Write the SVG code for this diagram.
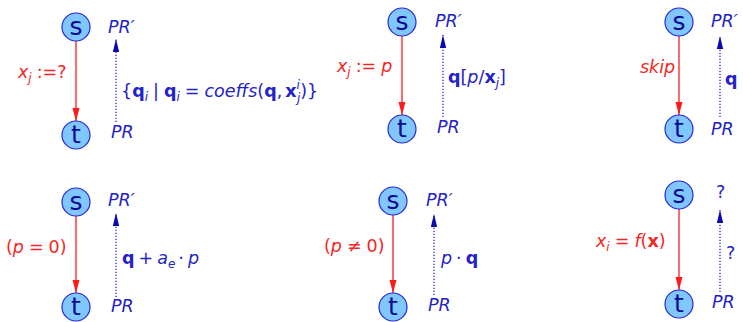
<svg xmlns="http://www.w3.org/2000/svg" width="743" height="322" viewBox="0 0 743 322">
<style>
.node circle{fill:#80c6ff;stroke:#2828d8;stroke-width:1.2}
.node text{font-family:"DejaVu Sans","Liberation Sans",sans-serif;font-size:25px;fill:#0c0c90;text-anchor:middle}
.red{stroke:#ff1a1a;stroke-width:1.3;fill:none}
.dot{stroke:#2a2ad0;stroke-width:1.3;stroke-dasharray:1.3 1.7;fill:none}
.lbl{font-family:"DejaVu Sans","Liberation Sans",sans-serif;font-size:17.5px}
.r{fill:#f52525}
.b{fill:#2222c8}
.i{font-style:italic}
.bf{font-weight:bold}
.sub{font-size:12px}
</style>
<defs>
<marker id="ar" markerUnits="userSpaceOnUse" markerWidth="13" markerHeight="8" refX="13" refY="4" orient="auto"><path d="M0,0.5 L13,4 L0,7.5 Z" fill="#ff1a1a"/></marker>
<marker id="ab" markerUnits="userSpaceOnUse" markerWidth="13" markerHeight="8" refX="13" refY="4" orient="auto"><path d="M0,0.8 L13,4 L0,7.2 Z" fill="#0a0ab0"/></marker>
</defs>

<g id="connectors">
<line class="red" x1="76" y1="41" x2="76" y2="121" marker-end="url(#ar)"/>
<line class="dot" x1="116" y1="122" x2="116" y2="39" marker-end="url(#ab)"/>
<line class="red" x1="402" y1="36" x2="402" y2="115" marker-end="url(#ar)"/>
<line class="dot" x1="443" y1="117" x2="443" y2="35" marker-end="url(#ab)"/>
<line class="red" x1="679" y1="36" x2="679" y2="115" marker-end="url(#ar)"/>
<line class="dot" x1="720" y1="117" x2="720" y2="36" marker-end="url(#ab)"/>
<line class="red" x1="76" y1="216" x2="76" y2="293" marker-end="url(#ar)"/>
<line class="dot" x1="116" y1="297" x2="116" y2="213" marker-end="url(#ab)"/>
<line class="red" x1="393" y1="215" x2="393" y2="293" marker-end="url(#ar)"/>
<line class="dot" x1="434" y1="295" x2="434" y2="214" marker-end="url(#ab)"/>
<line class="red" x1="679" y1="209" x2="679" y2="290" marker-end="url(#ar)"/>
<line class="dot" x1="720" y1="292" x2="720" y2="210" marker-end="url(#ab)"/>
</g>

<g id="n1s" class="node"><circle cx="76" cy="27" r="14"/><text x="76" y="35">s</text></g>
<g id="n1t" class="node"><circle cx="76" cy="135" r="14"/><text x="76" y="143">t</text></g>
<g id="n2s" class="node"><circle cx="402" cy="22" r="14"/><text x="402" y="30">s</text></g>
<g id="n2t" class="node"><circle cx="402" cy="129" r="14"/><text x="402" y="137">t</text></g>
<g id="n3s" class="node"><circle cx="679" cy="22" r="14"/><text x="679" y="30">s</text></g>
<g id="n3t" class="node"><circle cx="679" cy="129" r="14"/><text x="679" y="137">t</text></g>
<g id="n4s" class="node"><circle cx="76" cy="202" r="14"/><text x="76" y="210">s</text></g>
<g id="n4t" class="node"><circle cx="76" cy="307" r="14"/><text x="76" y="315">t</text></g>
<g id="n5s" class="node"><circle cx="393" cy="201" r="14"/><text x="393" y="209">s</text></g>
<g id="n5t" class="node"><circle cx="393" cy="307" r="14"/><text x="393" y="315">t</text></g>
<g id="n6s" class="node"><circle cx="679" cy="195" r="14"/><text x="679" y="203">s</text></g>
<g id="n6t" class="node"><circle cx="679" cy="304" r="14"/><text x="679" y="312">t</text></g>

<g id="labels" class="lbl">
<!-- panel 1 -->
<text class="b i" x="108" y="33">PR′</text>
<text class="b i" x="111" y="138">PR</text>
<text class="r" x="18" y="78"><tspan class="i">x</tspan><tspan class="i sub" dy="4">j</tspan><tspan dy="-4" dx="5">:=?</tspan></text>
<text class="b" x="121" y="97">{<tspan class="bf">q</tspan><tspan class="i sub" dy="4">i</tspan><tspan dy="-4" dx="5">|</tspan><tspan class="bf" dx="5">q</tspan><tspan class="i sub" dy="4">i</tspan><tspan dy="-4" dx="5">=</tspan><tspan class="i" dx="5">coeffs</tspan>(<tspan class="bf">q</tspan>,<tspan class="bf" dx="3">x</tspan><tspan class="i sub" dy="-8">i</tspan><tspan class="i sub" dx="-3" dy="13">j</tspan><tspan dy="-5">)}</tspan></text>
<!-- panel 2 -->
<text class="b i" x="435" y="27">PR′</text>
<text class="b i" x="437" y="133">PR</text>
<text class="r" x="337" y="72"><tspan class="i">x</tspan><tspan class="i sub" dy="4">j</tspan><tspan dy="-4" dx="5">:=</tspan><tspan class="i" dx="5">p</tspan></text>
<text class="b" x="448" y="83"><tspan class="bf">q</tspan>[<tspan class="i">p</tspan>/<tspan class="bf">x</tspan><tspan class="i sub" dy="4">j</tspan><tspan dy="-4">]</tspan></text>
<!-- panel 3 -->
<text class="b i" x="711" y="27">PR′</text>
<text class="b i" x="711" y="135">PR</text>
<text class="r i" x="640" y="73">skip</text>
<text class="b bf" x="725" y="85">q</text>
<!-- panel 4 -->
<text class="b i" x="108" y="206">PR′</text>
<text class="b i" x="111" y="312">PR</text>
<text class="r" x="6" y="253">(<tspan class="i">p</tspan><tspan dx="5">=</tspan><tspan dx="5">0)</tspan></text>
<text class="b" x="122" y="264"><tspan class="bf">q</tspan><tspan dx="4">+</tspan><tspan class="i" dx="4">a</tspan><tspan class="i sub" dy="4">e</tspan><tspan dy="-4" dx="3">·</tspan><tspan class="i" dx="4">p</tspan></text>
<!-- panel 5 -->
<text class="b i" x="426" y="206">PR′</text>
<text class="b i" x="428" y="311">PR</text>
<text class="r" x="324" y="252">(<tspan class="i">p</tspan><tspan dx="5">≠</tspan><tspan dx="5">0)</tspan></text>
<text class="b" x="441" y="264"><tspan class="i">p</tspan><tspan dx="4">·</tspan><tspan class="bf" dx="4">q</tspan></text>
<!-- panel 6 -->
<text class="b" x="716" y="198">?</text>
<text class="b i" x="712" y="308">PR</text>
<text class="r" x="596" y="247"><tspan class="i">x</tspan><tspan class="i sub" dy="4">i</tspan><tspan dy="-4" dx="5">=</tspan><tspan class="i" dx="5">f</tspan>(<tspan class="bf">x</tspan>)</text>
<text class="b" x="726" y="259">?</text>
</g>
</svg>
